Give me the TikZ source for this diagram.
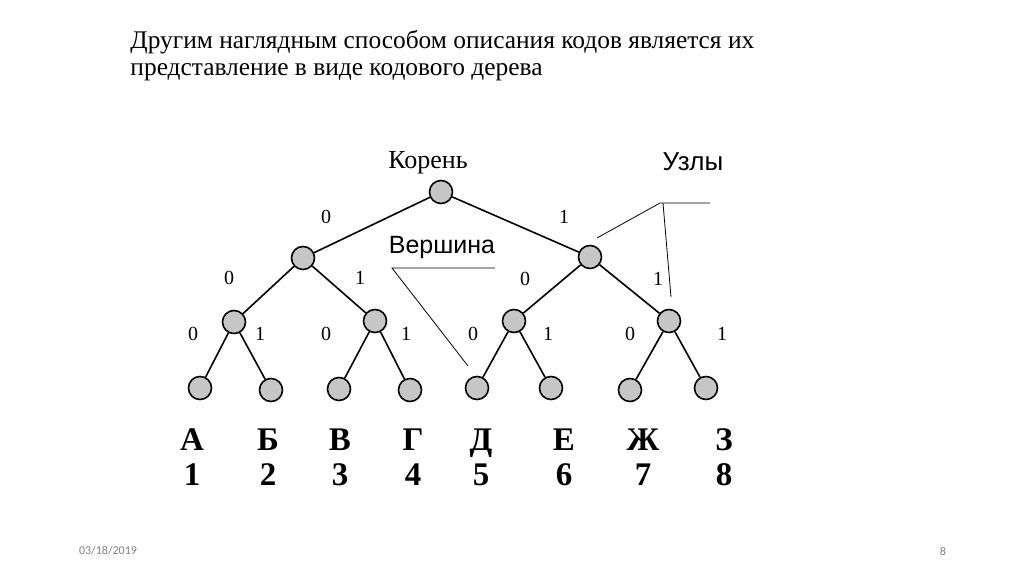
\documentclass[tikz,border=0pt]{standalone}
\usepackage{fontspec}
\setmainfont{Liberation Serif}
\setsansfont{Liberation Sans}
\newfontfamily\footfont{Carlito}
\usetikzlibrary{calc}

\tikzset{
  vert/.style={circle,draw,thick,fill=gray!45,minimum width=11pt,minimum height=11.5pt,inner sep=0pt},
  bit/.style={font=\fontsize{10}{11}\selectfont},
  letter/.style={anchor=base,font=\fontsize{16.5}{17}\selectfont\bfseries},
  callout/.style={thin}
}

\begin{document}
\begin{tikzpicture}[x=0.5pt,y=-0.5pt,thick]
  % page in pixels, 1024 x 576
  \useasboundingbox (0,0) rectangle (1024,576);

  % title
  \node[anchor=west,font=\fontsize{12.7}{14}\selectfont] (title1) at (123,42)
    {Другим наглядным способом описания кодов является их};
  \node[anchor=west,font=\fontsize{12.7}{14}\selectfont] (title2) at (123,72)
    {представление в виде кодового дерева};

  % tree vertices
  \node[vert] (r)   at (441,192) {};
  \node[vert] (a)   at (303,258) {};
  \node[vert] (b)   at (590,257) {};
  \node[vert] (aa)  at (234,322) {};
  \node[vert] (ab)  at (375,321) {};
  \node[vert] (ba)  at (514,321) {};
  \node[vert] (bb)  at (669,321) {};
  \node[vert] (aaa) at (200,388) {};
  \node[vert] (aab) at (271,390) {};
  \node[vert] (aba) at (339,389) {};
  \node[vert] (abb) at (410,390) {};
  \node[vert] (baa) at (477,388) {};
  \node[vert] (bab) at (551,388) {};
  \node[vert] (bba) at (630,390) {};
  \node[vert] (bbb) at (706,388) {};

  % edges
  \draw (r) -- (a);   \draw (r) -- (b);
  \draw (a) -- (aa);  \draw (a) -- (ab);
  \draw (b) -- (ba);  \draw (b) -- (bb);
  \draw (aa) -- (aaa); \draw (aa) -- (aab);
  \draw (ab) -- (aba); \draw (ab) -- (abb);
  \draw (ba) -- (baa); \draw (ba) -- (bab);
  \draw (bb) -- (bba); \draw (bb) -- (bbb);

  % bits on edges
  \node[bit] (e0)  at (326,217) {0};
  \node[bit] (e1)  at (564,217) {1};
  \node[bit] (e00) at (229,278) {0};
  \node[bit] (e01) at (360,278) {1};
  \node[bit] (e10) at (525,279) {0};
  \node[bit] (e11) at (658,279) {1};
  \foreach \x/\b [count=\i] in {193/0,260/1,326/0,406/1,473/0,548/1,630/0,722/1}
    \node[bit] (leafbit\i) at (\x,334) {\b};

  % letters and numbers
  \foreach \x/\l/\n [count=\i] in {192/А/1,268/Б/2,340/В/3,413/Г/4,481/Д/5,564/Е/6,643/Ж/7,724/З/8}{
    \node[letter] (let\i) at (\x,451) {\l};
    \node[letter] (num\i) at (\x,486) {\n};
  }

  % captions
  \node[font=\fontsize{13}{14}\selectfont] (koren) at (428,163) {Корень};
  \node[font=\sffamily\fontsize{12.5}{14}\selectfont] (versh) at (442,248) {Вершина};
  \node[font=\sffamily\fontsize{13}{14}\selectfont] (uzly) at (693,162) {Узлы};

  % pointer from Вершина
  \coordinate (vl) at (392,268);
  \coordinate (vr) at (495,268);
  \coordinate (vend) at (468,366);
  \draw[callout] (vr) -- (vl) -- (vend);

  % pointers from Узлы
  \coordinate (ul) at (660,203);
  \coordinate (ur) at (710,203);
  \coordinate (u1) at (597,238);
  \coordinate (u2) at (671,297);
  \draw[callout] (u1) -- (ul) -- (ur);
  \draw[callout] ($(ul)+(3,0)$) -- (u2);

  % footer
  \node[text=gray,font=\footfont\fontsize{6}{7}\selectfont] (date) at (108,551) {03/18/2019};
  \node[text=gray,font=\footfont\fontsize{6}{7}\selectfont] (page) at (943,551) {8};
\end{tikzpicture}
\end{document}
